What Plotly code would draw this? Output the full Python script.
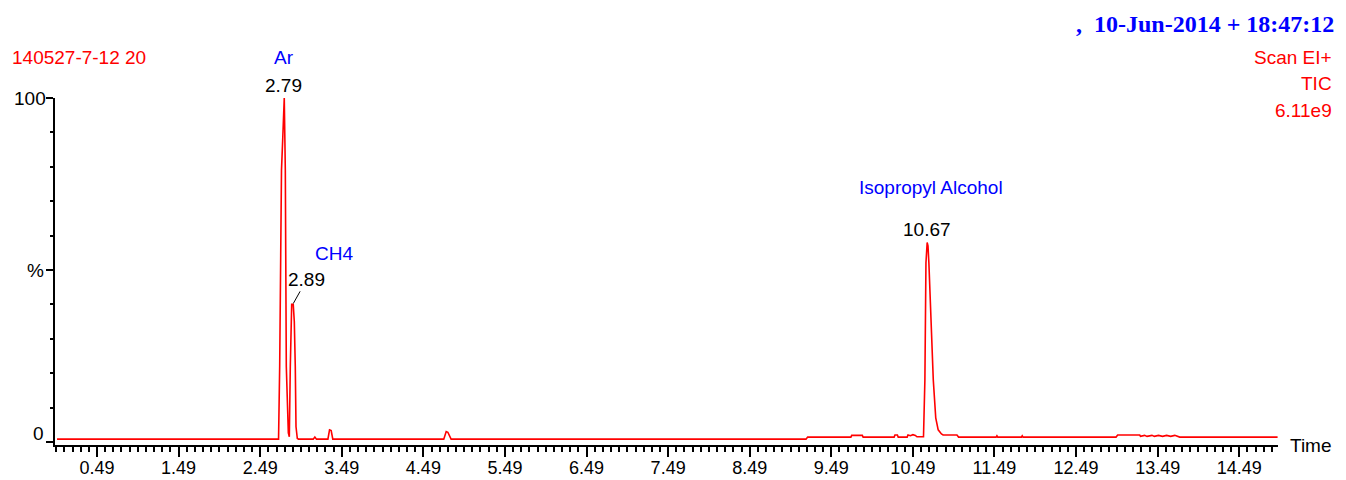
import plotly.graph_objects as go

# ---- data ----
time_min = [0.00, 2.70, 2.715, 2.729, 2.751, 2.766, 2.785, 2.798, 2.810, 2.835,
            2.847, 2.859, 2.876, 2.895, 2.908, 2.920, 2.929, 2.945, 2.960,
            3.14, 3.16, 3.18, 3.32, 3.34, 3.36, 3.38,
            4.74, 4.77, 4.79, 4.83,
            9.18, 9.20, 9.73, 9.74, 9.87, 9.88,
            10.26, 10.27, 10.30, 10.31, 10.42, 10.43, 10.46, 10.49, 10.52, 10.54,
            10.62, 10.637, 10.65, 10.665, 10.675, 10.686, 10.71, 10.74, 10.77, 10.80,
            10.84, 10.86, 11.03, 11.05,
            11.51, 11.52, 11.53, 11.82, 11.83, 11.84,
            12.98, 13.00, 13.27, 13.28, 13.33, 13.36, 13.42, 13.45, 13.50, 13.55,
            13.60, 13.65, 13.70, 13.76, 14.96]
intensity_pct = [0.8, 0.8, 0.8, 22, 79, 88, 100, 79, 22, 2.6,
                 1.5, 22, 40, 40, 35, 22, 4.4, 1.0, 0.8,
                 0.8, 1.4, 0.8, 0.8, 3.5, 3.3, 0.8,
                 0.8, 3.0, 2.8, 0.8,
                 0.8, 1.4, 1.4, 1.9, 1.9, 1.4,
                 1.4, 2.0, 2.0, 1.4, 1.4, 2.0, 1.8, 2.1, 1.9, 1.5,
                 1.5, 18, 52, 58, 57, 52, 36, 18, 7, 3.5,
                 2.3, 2.0, 2.0, 1.4,
                 1.4, 1.8, 1.4, 1.4, 1.8, 1.4,
                 1.4, 2.0, 2.0, 1.6, 1.9, 1.6, 1.9, 1.6, 1.9, 1.6,
                 1.9, 1.6, 1.9, 1.4, 1.4]

x_tick_labels = ["0.49", "1.49", "2.49", "3.49", "4.49", "5.49", "6.49", "7.49",
                 "8.49", "9.49", "10.49", "11.49", "12.49", "13.49", "14.49"]
y_tick_labels = ["0", "%", "100"]
y_tick_values = [0, 50, 100]

peak_names = ["Ar", "CH4", "Isopropyl Alcohol"]
peak_times = [2.79, 2.89, 10.67]
peak_heights = [100, 40, 58]

sample_name = "140527-7-12 20"
acq_stamp = ",  10-Jun-2014 + 18:47:12"
scan_info = ["Scan EI+", "TIC", "6.11e9"]

# ---- layout geometry (pixels) ----
W, H = 1346, 480
L, R, T, B = 55, 1278, 98, 445

def pxx(p):
    return (p - L) / (R - L)

def pxy(p):
    return (B - p) / (B - T)

SANS = "Liberation Sans, Arial, sans-serif"
FS = 19

fig = go.Figure()
fig.add_trace(go.Scatter(x=time_min, y=intensity_pct, mode="lines",
                         line=dict(color="#ff0000", width=1.6),
                         hoverinfo="skip", showlegend=False))

ann = []
# header texts
ann.append(dict(text=sample_name, xref="paper", yref="paper", x=pxx(10), y=pxy(57.5),
                xanchor="left", yanchor="middle", showarrow=False,
                font=dict(family=SANS, size=FS, color="#ff0000")))
ann.append(dict(text=acq_stamp, xref="paper", yref="paper", x=pxx(1336), y=pxy(24),
                xanchor="right", yanchor="middle", showarrow=False,
                font=dict(family="Liberation Serif, Times New Roman, serif", size=24,
                          color="#0000ff", weight="bold")))
for s, yy in zip(scan_info, [58, 84, 110]):
    ann.append(dict(text=s, xref="paper", yref="paper", x=pxx(1334), y=pxy(yy),
                    xanchor="right", yanchor="middle", showarrow=False,
                    font=dict(family=SANS, size=FS, color="#ff0000")))
ann.append(dict(text="Time", xref="paper", yref="paper", x=pxx(1288), y=pxy(445),
                xanchor="left", yanchor="middle", showarrow=False,
                font=dict(family=SANS, size=FS, color="black")))

# y tick labels
for lab, right, cy in zip(y_tick_labels, [46, 46, 48], [433, 270, 98]):
    ann.append(dict(text=lab, xref="paper", yref="paper", x=pxx(right), y=pxy(cy),
                    xanchor="right", yanchor="middle", showarrow=False,
                    font=dict(family=SANS, size=FS, color="black")))

# peak annotations
# Ar
ann.append(dict(text=f"{peak_times[0]:.2f}", x=peak_times[0], y=peak_heights[0], yshift=13,
                xshift=-1, xanchor="center", yanchor="middle", showarrow=False,
                font=dict(family=SANS, size=FS, color="black")))
ann.append(dict(text=peak_names[0], x=peak_times[0], y=peak_heights[0], yshift=41,
                xshift=-1, xanchor="center", yanchor="middle", showarrow=False,
                font=dict(family=SANS, size=FS, color="#0000ff")))
# CH4
ann.append(dict(text=f"{peak_times[1]:.2f}", x=peak_times[1], y=peak_heights[1],
                ax=14, ay=-25, showarrow=True, arrowhead=0, arrowwidth=1,
                arrowcolor="black", standoff=1,
                font=dict(family=SANS, size=FS, color="black")))
ann.append(dict(text=peak_names[1], x=peak_times[1], y=peak_heights[1], yshift=51,
                xshift=41, xanchor="center", yanchor="middle", showarrow=False,
                font=dict(family=SANS, size=FS, color="#0000ff")))
# Isopropyl Alcohol
ann.append(dict(text=f"{peak_times[2]:.2f}", x=peak_times[2], y=peak_heights[2], yshift=13,
                xshift=-1, xanchor="center", yanchor="middle", showarrow=False,
                font=dict(family=SANS, size=FS, color="black")))
ann.append(dict(text=peak_names[2], x=peak_times[2], y=peak_heights[2], yshift=55,
                xshift=3, xanchor="center", yanchor="middle", showarrow=False,
                font=dict(family=SANS, size=FS, color="#0000ff")))

fig.update_layout(
    width=W, height=H,
    margin=dict(l=L, r=W - R, t=T, b=H - B, pad=0, autoexpand=False),
    paper_bgcolor="white", plot_bgcolor="white",
    annotations=ann,
    xaxis=dict(range=[-0.025, 14.965], showgrid=False, zeroline=False,
               automargin=False,
               showline=True, linecolor="black", linewidth=2,
               tickmode="array", tickvals=[float(s) for s in x_tick_labels],
               ticktext=x_tick_labels, ticks="outside", ticklen=10,
               tickwidth=1.5, tickcolor="black", ticklabelstandoff=-5,
               tickfont=dict(family=SANS, size=18, color="black"),
               minor=dict(tick0=0.49, dtick=0.1, ticks="outside", ticklen=5,
                          tickwidth=1.5, tickcolor="black", showgrid=False)),
    yaxis=dict(range=[-0.9, 100], showgrid=False, zeroline=False,
               automargin=False,
               showline=True, linecolor="black", linewidth=2,
               tickmode="array", tickvals=y_tick_values, ticks="outside",
               ticklen=7, tickwidth=1.5, tickcolor="black", showticklabels=False,
               minor=dict(tick0=0, dtick=10, ticks="outside", ticklen=3,
                          tickwidth=1.5, tickcolor="black", showgrid=False)),
)

fig.write_html("out.html")
